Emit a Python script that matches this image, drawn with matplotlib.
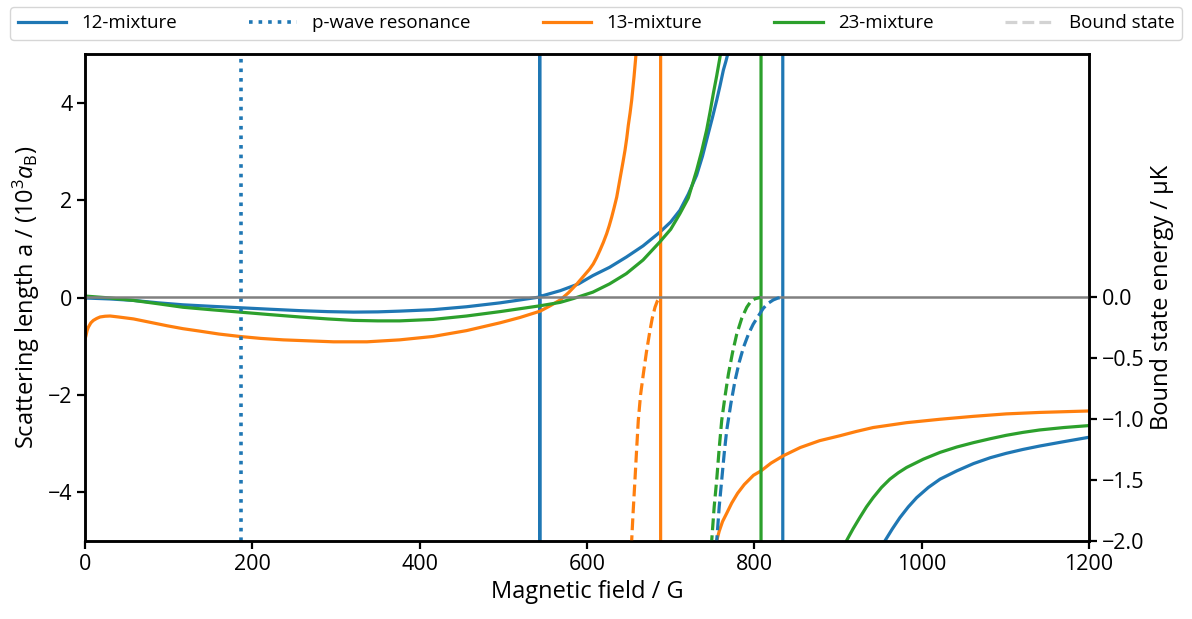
import numpy as np
import matplotlib
matplotlib.use("Agg")
import matplotlib.pyplot as plt
from matplotlib.lines import Line2D

plt.rcParams["font.family"] = ["Open Sans", "DejaVu Sans"]
plt.rcParams["mathtext.fontset"] = "custom"
plt.rcParams["mathtext.rm"] = "Open Sans"
plt.rcParams["mathtext.it"] = "Open Sans:italic"

# Scattering length (10^3 a_B) vs magnetic field (G); +-1000 marks a pole
B_12 = [0, 30, 58, 88, 117, 150, 185, 220, 257, 290, 321, 350, 376, 416, 456, 496, 520,
        543.4, 543.5, 543.5, 543.6,
        568, 590, 607, 627, 647, 667, 687, 700, 711, 721, 731, 738, 745, 750, 755, 759, 763,
        766, 769, 790, 815, 834, 834, 860, 900,
        956, 965, 974, 984, 994, 1008, 1022, 1042, 1062, 1082, 1101, 1121, 1141, 1170, 1200]
a_12 = [-0.01, -0.03, -0.06, -0.11, -0.15, -0.18, -0.21, -0.24, -0.27, -0.29, -0.30, -0.295, -0.28, -0.25, -0.19, -0.11, -0.05,
        0.01, 1000, -1000, 0.02,
        0.14, 0.28, 0.45, 0.62, 0.83, 1.06, 1.34, 1.55, 1.79, 2.12, 2.51, 2.90, 3.37, 3.70, 4.05, 4.35, 4.67,
        4.85, 5.05, 7.5, 15, 1000, -1000, -20, -8,
        -5.0, -4.75, -4.52, -4.30, -4.11, -3.90, -3.73, -3.56, -3.41, -3.29, -3.20, -3.12, -3.05, -2.96, -2.87]

B_13 = [0, 1.2, 2.5, 4, 7, 10, 14, 18, 24, 30, 40, 58, 78, 98, 117, 137, 160, 185, 210, 237,
        267, 297, 337, 376, 416, 456, 496, 520, 544, 556,
        568, 578, 588, 598, 603, 607.5, 611.5, 615.5, 619.5, 623.5, 626.5, 629.5, 632.5, 635.5,
        638, 640.6, 643, 645.4, 647.5, 649.4, 651.5, 653.4, 656.2,
        658.5, 661, 670, 688, 688, 710, 740,
        755, 758, 762, 767, 773, 780, 788, 799, 808, 820, 834.6, 855, 878, 902, 922, 942, 962,
        982, 1022, 1062, 1101, 1141, 1200]
a_13 = [-0.86, -0.78, -0.68, -0.61, -0.52, -0.47, -0.43, -0.40, -0.385, -0.38, -0.40, -0.44, -0.51, -0.58, -0.64, -0.69, -0.75, -0.80, -0.84, -0.87,
        -0.89, -0.91, -0.91, -0.87, -0.80, -0.68, -0.52, -0.41, -0.28, -0.17,
        -0.05, 0.10, 0.28, 0.48, 0.58, 0.69, 0.82, 0.97, 1.13, 1.31, 1.47, 1.65, 1.85, 2.06,
        2.30, 2.55, 2.78, 3.02, 3.27, 3.54, 3.79, 4.05, 4.53,
        4.98, 5.4, 9, 1000, -1000, -15, -7,
        -5.0, -4.80, -4.60, -4.43, -4.22, -4.02, -3.84, -3.65, -3.56, -3.40, -3.25, -3.08, -2.94, -2.84, -2.75, -2.67, -2.62,
        -2.57, -2.50, -2.44, -2.39, -2.36, -2.33]

B_23 = [0, 30, 58, 88, 117, 150, 185, 220, 257, 290, 321, 350, 376, 416, 456, 496, 520, 544,
        568, 584, 607, 627, 647, 667, 687, 700, 711, 721, 731, 737, 743, 747, 751, 755, 759,
        761, 780, 808, 808, 850,
        910, 918, 926, 934, 942, 952, 962, 972, 982, 1002, 1022, 1042, 1062, 1082, 1101,
        1121, 1141, 1170, 1200]
a_23 = [0.03, -0.01, -0.06, -0.13, -0.20, -0.25, -0.30, -0.35, -0.40, -0.44, -0.47, -0.48, -0.48, -0.45, -0.38, -0.29, -0.23, -0.17,
        -0.10, -0.02, 0.11, 0.28, 0.49, 0.77, 1.14, 1.40, 1.72, 2.04, 2.61, 3.00, 3.44, 3.80, 4.19, 4.55, 4.94,
        5.15, 9, 1000, -1000, -12,
        -5.0, -4.75, -4.52, -4.30, -4.11, -3.90, -3.73, -3.60, -3.49, -3.32, -3.18, -3.07, -2.98, -2.90, -2.83,
        -2.77, -2.72, -2.67, -2.63]

# Bound state energies (µK)
Eb_B_12 = [754.5, 758, 761, 764, 767, 772, 777, 782, 787, 793, 798.6, 805, 810.6, 816, 822.6, 828, 832.6]
Eb_12 = [-2.05, -1.72, -1.50, -1.28, -1.09, -0.87, -0.68, -0.53, -0.41, -0.30, -0.22, -0.15, -0.09, -0.05, -0.02, -0.005, 0.0]
Eb_B_13 = [653, 655, 657.3, 659.3, 661.3, 664, 667.3, 671, 675.3, 678, 681.3, 684, 687.2]
Eb_13 = [-2.05, -1.78, -1.50, -1.25, -1.01, -0.80, -0.63, -0.45, -0.27, -0.17, -0.08, -0.03, 0.0]
Eb_B_23 = [748.5, 752, 755, 758, 761, 765, 769, 774, 779, 785, 791, 796, 801, 807]
Eb_23 = [-2.05, -1.72, -1.50, -1.24, -1.01, -0.81, -0.63, -0.45, -0.30, -0.17, -0.08, -0.03, -0.01, 0.0]

B_pwave = 187

c12, c13, c23 = "#1f77b4", "#ff7f0e", "#2ca02c"
lw = 2.3

fig = plt.figure(figsize=(11.92, 6.19), dpi=100)
ax = fig.add_axes([85 / 1192, 78 / 619, 1004 / 1192, 487 / 619])
ax2 = ax.twinx()

ax.plot(B_12, a_12, color=c12, lw=lw)
ax.plot(B_13, a_13, color=c13, lw=lw)
ax.plot(B_23, a_23, color=c23, lw=lw)
ax.axvline(B_pwave, color=c12, ls=":", lw=2.6)

ax2.axhline(0, color="gray", lw=1.8)
ax2.plot(Eb_B_13, Eb_13, color=c13, ls="--", lw=lw)
ax2.plot(Eb_B_23, Eb_23, color=c23, ls="--", lw=lw)
ax2.plot(Eb_B_12, Eb_12, color=c12, ls="--", lw=lw)

ax.set_xlim(0, 1200)
ax.set_ylim(-5, 5)
ax2.set_ylim(-2, 2)
ax.set_xticks([0, 200, 400, 600, 800, 1000, 1200])
ax.set_yticks([-4, -2, 0, 2, 4])
ax2.set_yticks([-2.0, -1.5, -1.0, -0.5, 0.0])
ax2.set_yticklabels(["\u22122.0", "\u22121.5", "\u22121.0", "\u22120.5", "0.0"])

ax.set_xlabel("Magnetic field / G", fontsize=17, labelpad=4)
ax.set_ylabel(r"Scattering length a / ($10^3a_\mathrm{B}$)", fontsize=17)
ax2.set_ylabel("Bound state energy / µK", fontsize=17)

for a in (ax, ax2):
    for s in a.spines.values():
        s.set_linewidth(1.8)
    a.tick_params(width=1.6, length=5.5, labelsize=15.5)

handles = [
    Line2D([], [], color=c12, lw=lw),
    Line2D([], [], color=c12, lw=2.6, ls=":"),
    Line2D([], [], color=c13, lw=lw),
    Line2D([], [], color=c23, lw=lw),
    Line2D([], [], color="lightgray", lw=lw, ls="--"),
]
labels = ["12-mixture", "p-wave resonance", "13-mixture", "23-mixture", "Bound state"]
fig.legend(handles, labels, ncol=5, mode="expand", loc="lower left",
           bbox_to_anchor=(10 / 1192, 579 / 619, 1172 / 1192, 37 / 619),
           borderaxespad=0, handlelength=2.6, fontsize=13.5, frameon=True)

fig.savefig("out.png", dpi=100)
